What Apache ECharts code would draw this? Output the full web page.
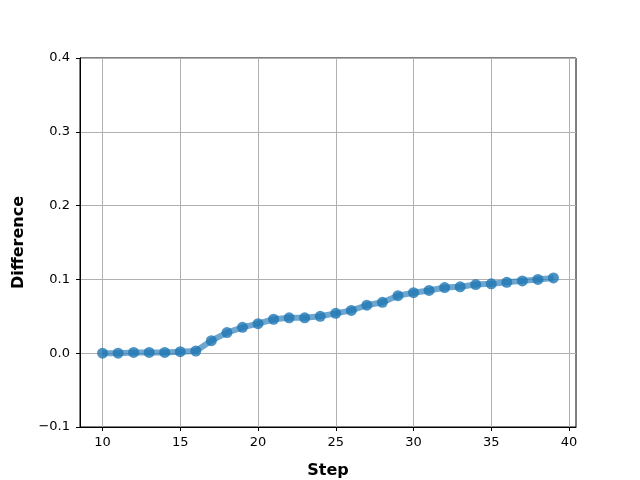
<!DOCTYPE html>
<html>
<head>
<meta charset="utf-8">
<script src="https://cdn.jsdelivr.net/npm/echarts@6/dist/echarts.min.js"></script>
<style>
  html, body { margin: 0; padding: 0; background: #fff; }
  #main { width: 640px; height: 480px; }
</style>
</head>
<body>
<div id="main"></div>
<script>
// step numbers and difference readings
var steps = [10, 11, 12, 13, 14, 15, 16, 17, 18, 19, 20, 21, 22, 23, 24,
  25, 26, 27, 28, 29, 30, 31, 32, 33, 34, 35, 36, 37, 38, 39];
var diffs = [0.000, 0.000, 0.001, 0.001, 0.001, 0.002, 0.003, 0.017, 0.028, 0.035,
  0.040, 0.046, 0.048, 0.048, 0.050, 0.054, 0.058, 0.065, 0.069, 0.078,
  0.082, 0.085, 0.089, 0.090, 0.093, 0.094, 0.096, 0.098, 0.100, 0.102];
var xTicks = [10, 15, 20, 25, 30, 35, 40];

var font = "DejaVu Sans";
var chart = echarts.init(document.getElementById("main"));

var option = {
  animation: false,
  grid: {
    left: 80,
    right: 64,
    top: 58,
    bottom: 53,
    outerBoundsMode: "none",
    containLabel: false,
    show: true,
    borderColor: "#000",
    borderWidth: 1,
  },
  xAxis: {
    type: "value",
    min: 8.55,
    max: 40.45,
    name: "Step",
    nameLocation: "middle",
    nameGap: 36,
    nameTextStyle: { fontFamily: font, fontSize: 16, fontWeight: "bold", color: "#000" },
    axisLine: { onZero: false, lineStyle: { color: "#000", width: 1 } },
    axisTick: { show: true, length: 4, customValues: xTicks, lineStyle: { color: "#000" } },
    axisLabel: {
      customValues: xTicks,
      fontFamily: font,
      fontSize: 13,
      color: "#000",
      margin: 9,
    },
    splitLine: { show: true, lineStyle: { color: "#b0b0b0", width: 1 } },
  },
  yAxis: {
    type: "value",
    min: -0.1,
    max: 0.4,
    interval: 0.1,
    name: "Difference",
    nameLocation: "middle",
    nameGap: 53,
    nameTextStyle: { fontFamily: font, fontSize: 16, fontWeight: "bold", color: "#000" },
    axisLine: { show: true, onZero: false, lineStyle: { color: "#000", width: 1 } },
    axisTick: { show: true, length: 4, lineStyle: { color: "#000" } },
    axisLabel: {
      fontFamily: font,
      fontSize: 13,
      color: "#000",
      margin: 10,
      formatter: function (v) {
        return v.toFixed(1).replace("-", "\u2212");
      },
    },
    splitLine: { show: true, lineStyle: { color: "#b0b0b0", width: 1 } },
  },
  series: [
    {
      type: "line",
      data: steps.map(function (s, i) { return [s, diffs[i]]; }),
      symbol: "circle",
      symbolSize: 11,
      showAllSymbol: true,
      lineStyle: { color: "#1f77b4", width: 6, opacity: 0.65 },
      itemStyle: { color: "#1f77b4", opacity: 0.8 },
    },
  ],
};

option && chart.setOption(option);
</script>
</body>
</html>
